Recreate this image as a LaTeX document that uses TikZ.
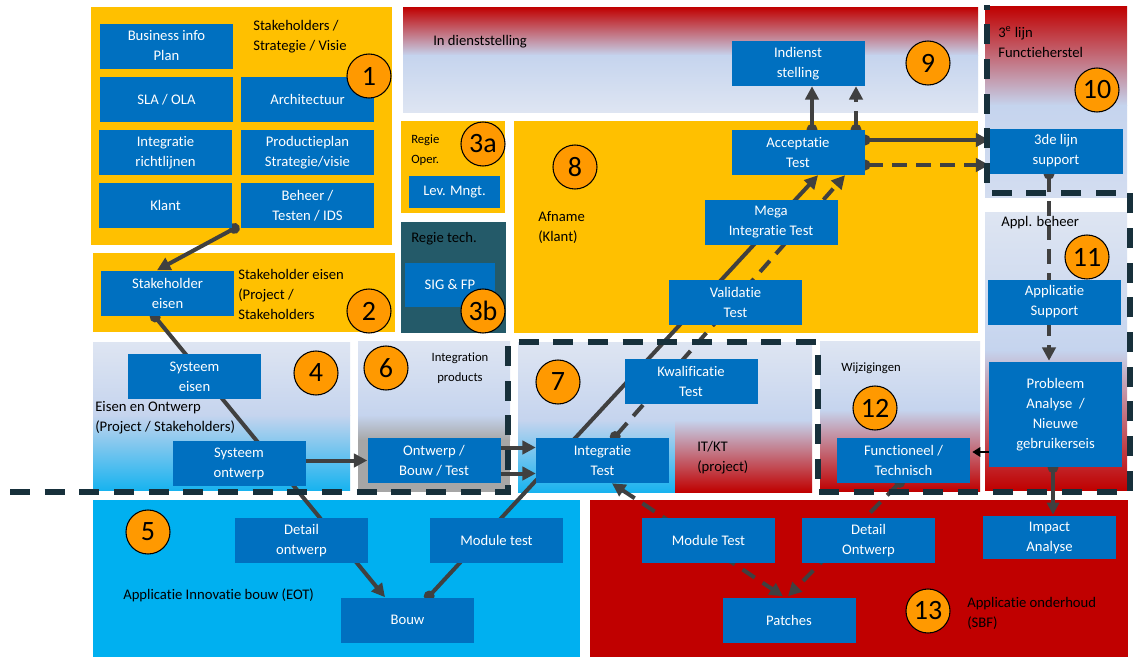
\documentclass[tikz,border=0pt]{standalone}
\usepackage{fontspec}
\setmainfont{Carlito}[Ligatures=NoCommon]
\usetikzlibrary{arrows.meta,calc}
\definecolor{pyel}{HTML}{FFC000}
\definecolor{bblue}{HTML}{0070C0}
\definecolor{porange}{HTML}{FF9900}
\definecolor{pcyan}{HTML}{00B0F0}
\definecolor{pcyanb}{HTML}{18B3EF}
\definecolor{pred}{HTML}{C00000}
\definecolor{pteal}{HTML}{245A69}
\definecolor{ltop}{HTML}{DEE5F2}
\definecolor{lmid}{HTML}{C5D4EE}
\definecolor{lbot}{HTML}{D3DDF0}
\definecolor{pgray}{HTML}{A6A6A6}
\definecolor{lineg}{HTML}{404040}
\definecolor{bndc}{HTML}{17303B}
\pgfdeclarelayer{bg}
\pgfdeclarelayer{conn}
\pgfdeclarelayer{bnd}
\pgfsetlayers{bg,conn,bnd,main}
\begin{document}
\begin{tikzpicture}[x=0.75pt,y=-0.75pt,
  bx/.style={fill=bblue, text=white, inner sep=0pt, align=center, minimum width=99.75pt, minimum height=33.75pt, font=\fontsize{11}{15}\selectfont},
  lbl/.style={inner sep=0pt, align=left, anchor=west, font=\fontsize{11}{15}\selectfont},
  slbl/.style={lbl, font=\fontsize{9.5}{15}\selectfont},
  num/.style={circle, draw=black, line width=0.8pt, fill=porange, minimum size=33pt, inner sep=0pt, font=\fontsize{21}{21}\selectfont},
  conn/.style={draw=lineg, line width=3pt},
  dsh/.style={conn, dash pattern=on 11pt off 7pt},
  ar/.style={-{Triangle[length=10pt,width=10pt]}},
  dotar/.style={{Circle[length=8pt]}-{Triangle[length=10pt,width=10pt]}},
  bndline/.style={draw=bndc, line width=4pt, dash pattern=on 15pt off 11pt}
]
\useasboundingbox (0,0) rectangle (1136,657);
\begin{pgfonlayer}{bg}
\fill[white] (0,0) rectangle (1136,657);
\fill[pyel] (91,7) rectangle (392,245);
\fill[pyel] (93,253) rectangle (395,332);
\fill[pyel] (401,121) rectangle (505,213);
\fill[pteal] (401,222) rectangle (506,333);
\fill[pyel] (514,121) rectangle (978,333);
% panel 9
\shade[top color=pred,bottom color=lmid] (403,7) rectangle (978,55.5);
\shade[top color=lmid,bottom color=ltop] (403,55) rectangle (978,112);
% panel 10
\shade[top color=pred,bottom color=lmid] (985,6) rectangle (1127,105.5);
\shade[top color=lmid,bottom color=lbot] (985,105) rectangle (1127,197);
% panel 11
\shade[top color=ltop,bottom color=lmid] (985,212) rectangle (1127,350.5);
\shade[top color=lmid,bottom color=pred] (985,350) rectangle (1127,490);
% panel 4
\shade[top color=ltop,bottom color=lmid] (93,342) rectangle (350,415.5);
\shade[top color=lmid,bottom color=pcyanb] (93,415) rectangle (350,490);
% panel 6
\shade[top color=ltop,bottom color=lmid] (358,341) rectangle (510,415.5);
\shade[top color=lmid,bottom color=pgray] (358,415) rectangle (510,440.5);
\fill[pgray] (358,440) rectangle (510,492);
% panel 7
\shade[top color=ltop,bottom color=lmid] (518,342) rectangle (812,420.5);
\shade[top color=lmid,bottom color=pcyanb] (518,420) rectangle (675,492);
\shade[top color=lmid,bottom color=pred] (675,420) rectangle (812,492);
% panel 12
\shade[top color=ltop,bottom color=lmid] (820,341) rectangle (980,410.5);
\shade[top color=lmid,bottom color=pred] (820,410) rectangle (980,491);
% panels 5 and 13
\fill[pcyan] (93,500) rectangle (580,657);
\fill[pred] (590,500) rectangle (1128,657);
\end{pgfonlayer}

% boxes
\node[bx] (bip) at (166.5,46) {Business info\\Plan};
\node[bx] (sla) at (166.5,99.5) {SLA / OLA};
\node[bx] (arch) at (307.5,99.5) {Architectuur};
\node[bx] (intr) at (165.5,152.5) {Integratie\\richtlijnen};
\node[bx] (prod) at (307.5,152.5) {Productieplan\\Strategie/visie};
\node[bx] (klant) at (165.5,205.5) {Klant};
\node[bx] (beheer) at (307.5,205.5) {Beheer /\\Testen / IDS};
\node[bx] (stk) at (167.5,293) {Stakeholder\\eisen};
\node[bx] (syse) at (194.5,376.5) {Systeem\\eisen};
\node[bx] (syso) at (239,463.5) {Systeem\\ontwerp};
\node[bx] (deto) at (301.5,540.5) {Detail\\ontwerp};
\node[bx] (bouw) at (407.5,620) {Bouw};
\node[bx] (modt) at (496.5,540.5) {Module test};
\node[bx] (obt) at (434,460.5) {Ontwerp /\\Bouw / Test};
\node[bx] (intt) at (602.5,460.5) {Integratie\\Test};
\node[bx] (kwal) at (691,381) {Kwalificatie\\Test};
\node[bx] (val) at (735.5,302.5) {Validatie\\Test};
\node[bx] (mega) at (771,222.5) {Mega\\Integratie Test};
\node[bx] (acc) at (798,152.5) {Acceptatie\\Test};
\node[bx] (ind) at (798,63.5) {Indienst\\stelling};
\node[bx] (tdl) at (1056,151) {3de lijn\\support};
\node[bx] (apps) at (1054.5,302) {Applicatie\\Support};
\node[bx, minimum height=78.75pt] (prob) at (1055.5,414.5) {Probleem\\Analyse~~/\\Nieuwe\\gebruikerseis};
\node[bx] (fun) at (903.5,460.5) {Functioneel /\\Technisch};
\node[bx, minimum height=32.25pt] (imp) at (1049.5,537.5) {Impact\\Analyse};
\node[bx] (modT) at (708.5,540.5) {Module Test};
\node[bx] (detO) at (868.5,540.5) {Detail\\Ontwerp};
\node[bx] (patch) at (789,620) {Patches};
\node[bx, minimum width=68.25pt, minimum height=24pt] (lev) at (454.5,192) {Lev. Mngt.};
\node[bx, minimum width=67.5pt, minimum height=33pt] (sig) at (450,285) {SIG \& FP};

% labels
\node[lbl] (l1) at (253,37) {Stakeholders /\\Strategie / Visie};
\node[lbl] (l2) at (238,294) {Stakeholder eisen\\(Project /\\Stakeholders};
\node[lbl] (l4) at (95,418) {Eisen en Ontwerp\\(Project / Stakeholders)};
\node[lbl] (l5) at (123,595) {Applicatie Innovatie bouw (EOT)};
\node[slbl, align=center, anchor=center] (l6) at (460,368) {Integration\\products};
\node[slbl] (l3a) at (411,150) {Regie\\Oper.};
\node[lbl] (l3b) at (411,239) {Regie tech.};
\node[lbl] (l9) at (433,42) {In dienststelling};
\node[lbl] (l8) at (538,227) {Afname\\(Klant)};
\node[lbl] (l10) at (998,42) {3\textsuperscript{e} lijn\\Functieherstel};
\node[lbl] (l11) at (1001,223) {Appl. beheer};
\node[slbl] (l12) at (841,368) {Wijzigingen};
\node[lbl] (l7) at (697,458) {IT/KT\\(project)};
\node[lbl] (l13) at (967,613) {Applicatie onderhoud\\(SBF)};

% number circles
\node[num] (n1) at (369,76) {1};
\node[num] (n2) at (369,311) {2};
\node[num] (n3a) at (483,144) {3a};
\node[num] (n3b) at (483,311) {3b};
\node[num] (n4) at (316,373) {4};
\node[num] (n5) at (148,532) {5};
\node[num] (n6) at (386,368) {6};
\node[num] (n7) at (558,382) {7};
\node[num] (n8) at (575,167) {8};
\node[num] (n9) at (928,63) {9};
\node[num] (n10) at (1097,90) {10};
\node[num] (n11) at (1087,257) {11};
\node[num] (n12) at (875,408) {12};
\node[num] (n13) at (928,611) {13};

% connectors
\begin{pgfonlayer}{conn}
\draw[conn,dotar] ($(beheer.south west)+(-1.6,-2.4)$) -- ($(stk.north)+(-10.5,0)$);
\draw[conn,dotar] ($(stk.south)+(-15.7,-2.9)$) -- ($(bouw.north)+(-22.5,0)$);
\draw[conn,ar] (syso.east |- obt.west) -- (obt.west);
\draw[conn,ar] ($(obt.east)+(0,-13)$) -- ($(intt.west)+(0,-13)$);
\draw[conn,ar] ($(obt.east)+(0,13)$) -- ($(intt.west)+(0,13)$);
\draw[conn,dotar] ($(bouw.north)+(18.1,2.7)$) -- ($(acc.south)+(20,0)$);
\draw[dsh,dotar] ($(intt.north)+(9.2,2.8)$) -- ($(acc.south)+(47,0)$);
\draw[conn,dotar] ($(acc.north)+(14,5)$) -- ($(ind.south)+(14,0)$);
\draw[dsh,dotar] ($(acc.north)+(58,5)$) -- ($(ind.south)+(58,0)$);
\draw[conn,dotar] ($(acc.east)+(-5,-12.5)$) -- ($(tdl.west)+(0,-11)$);
\draw[dsh,dotar] ($(acc.east)+(-5,12.5)$) -- ($(tdl.west)+(0,14)$);
\draw[dsh,dotar] ($(tdl.south)+(-7,-5)$) -- ($(prob.north)+(-6.5,-1)$);
\draw[draw=black, line width=1.5pt, -{Triangle[length=6pt,width=7pt]}] ($(prob.west)+(0,37.5)$) -- ($(fun.east)+(2,-8.5)$);
\draw[conn, line width=2.5pt, {Circle[length=8pt]}-{Triangle[length=9pt,width=9pt]}] ($(prob.south)+(-2.5,-5)$) -- ($(imp.north)+(3.5,-1)$);
\draw[dsh,dotar] ($(fun.south)+(0,-4.6)$) -- ($(patch.north)+(-1,-1)$);
\draw[dsh,{Triangle[length=10pt,width=10pt]}-{Triangle[length=10pt,width=10pt]}] ($(intt.south)+(9.5,0)$) -- ($(patch.north)+(-6,-1)$);
\end{pgfonlayer}

% boundary
\begin{pgfonlayer}{bnd}
\draw[bndline] (10,492) -- (508,492) -- (508,342) -- (818,342) -- (818,492) -- (1130,492) -- (1130,193) -- (987,193) -- (987,5);
\end{pgfonlayer}
\end{tikzpicture}
\end{document}
